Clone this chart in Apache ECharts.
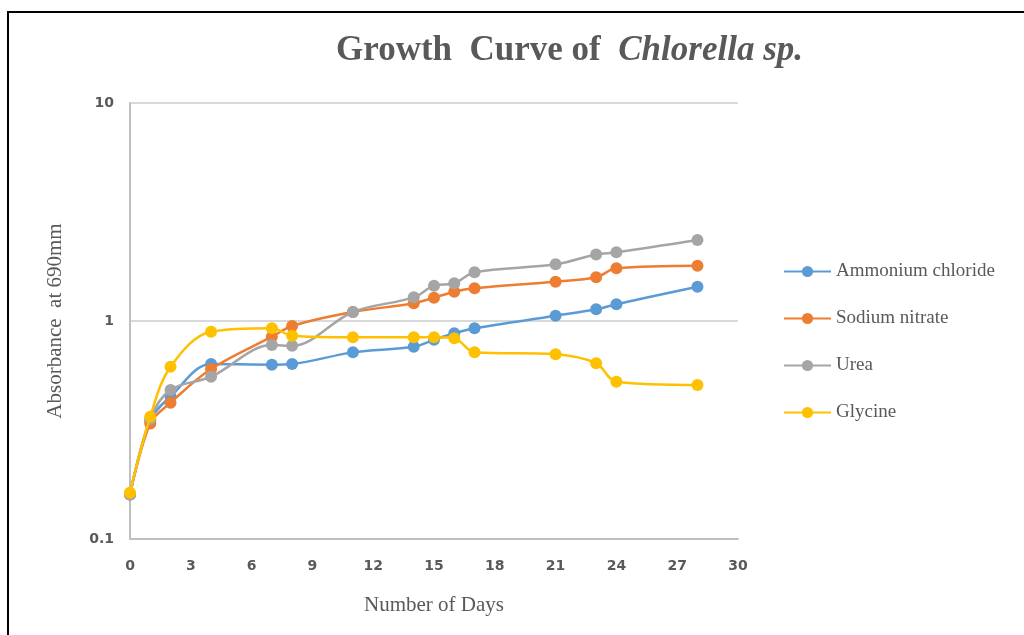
<!DOCTYPE html>
<html>
<head>
<meta charset="utf-8">
<title>Growth Curve of Chlorella sp.</title>
<script src="https://cdn.jsdelivr.net/npm/echarts@6/dist/echarts.min.js"></script>
<style>
  html, body { margin: 0; padding: 0; background: #ffffff; }
  #chart { width: 1024px; height: 635px; }
</style>
</head>
<body>
<div id="chart"></div>
<script>
// Sampling days
const days = [0, 1, 2, 4, 7, 8, 11, 14, 15, 16, 17, 21, 23, 24, 28];

// Absorbance at 690 nm for each nitrogen source
const ammoniumChloride = [0.16, 0.35, 0.45, 0.635, 0.63, 0.635, 0.718, 0.762, 0.82, 0.878, 0.926, 1.057, 1.131, 1.193, 1.436];
const sodiumNitrate    = [0.16, 0.339, 0.422, 0.602, 0.847, 0.949, 1.10, 1.206, 1.279, 1.363, 1.413, 1.515, 1.587, 1.745, 1.794];
const urea             = [0.16, 0.355, 0.483, 0.555, 0.776, 0.77, 1.10, 1.284, 1.452, 1.489, 1.673, 1.82, 2.02, 2.066, 2.353];
const glycine          = [0.163, 0.364, 0.617, 0.893, 0.926, 0.856, 0.842, 0.842, 0.842, 0.833, 0.718, 0.703, 0.64, 0.527, 0.509];

const seriesNames  = ['Ammonium chloride', 'Sodium nitrate', 'Urea', 'Glycine'];
const seriesValues = [ammoniumChloride, sodiumNitrate, urea, glycine];
const seriesColors = ['#5B9BD5', '#ED7D31', '#A5A5A5', '#FFC000'];

const chart = echarts.init(document.getElementById('chart'));

const pair = (vals) => days.map((d, i) => [d, vals[i]]);

chart.setOption({
  animation: false,
  backgroundColor: '#ffffff',
  title: {
    text: '{a|Growth  Curve of  }{b|Chlorella sp.}',
    left: 336,
    top: 33,
    padding: 0,
    textStyle: {
      rich: {
        a: { fontFamily: 'Liberation Serif', fontWeight: 'bold', fontSize: 35, color: '#595959' },
        b: { fontFamily: 'Liberation Serif', fontWeight: 'bold', fontStyle: 'italic', fontSize: 35, color: '#595959' }
      }
    }
  },
  graphic: [
    {
      type: 'rect',
      shape: { x: 8, y: 12, width: 1100, height: 700 },
      style: { fill: 'none', stroke: '#000000', lineWidth: 2 },
      silent: true
    }
  ],
  legend: {
    orient: 'vertical',
    left: 783,
    top: 262,
    padding: 0,
    itemWidth: 47,
    itemHeight: 14,
    itemGap: 28,
    data: seriesNames,
    textStyle: { fontFamily: 'Liberation Serif', fontSize: 19, color: '#595959' }
  },
  grid: {
    left: 130,
    right: 286,
    top: 103,
    bottom: 96,
    containLabel: false
  },
  xAxis: {
    type: 'value',
    min: 0,
    max: 30,
    interval: 3,
    name: 'Number of Days',
    nameLocation: 'middle',
    nameGap: 56,
    nameTextStyle: { fontFamily: 'Liberation Serif', fontSize: 21, color: '#595959' },
    axisLine: { lineStyle: { color: '#BFBFBF', width: 2 } },
    axisTick: { show: false },
    splitLine: { show: false },
    axisLabel: { fontFamily: 'DejaVu Sans', fontWeight: 'bold', fontSize: 14, color: '#595959', margin: 20 }
  },
  yAxis: {
    type: 'log',
    logBase: 10,
    min: 0.1,
    max: 10,
    name: 'Absorbance  at 690mm',
    nameLocation: 'middle',
    nameGap: 64,
    nameTextStyle: { fontFamily: 'Liberation Serif', fontSize: 21, color: '#595959' },
    axisLine: { show: true, lineStyle: { color: '#BFBFBF', width: 2 } },
    axisTick: { show: false },
    splitLine: { lineStyle: { color: '#D9D9D9', width: 2 } },
    axisLabel: {
      fontFamily: 'DejaVu Sans', fontWeight: 'bold', fontSize: 14, color: '#595959', margin: 16,
      formatter: (v) => String(+v.toPrecision(3))
    }
  },
  series: seriesNames.map((name, i) => ({
    name: name,
    type: 'line',
    data: pair(seriesValues[i]),
    smooth: 0.35,
    symbol: 'circle',
    symbolSize: 12,
    showSymbol: true,
    itemStyle: { color: seriesColors[i] },
    lineStyle: { color: seriesColors[i], width: 2.5 },
    z: 2 + i
  }))
});
</script>
</body>
</html>
